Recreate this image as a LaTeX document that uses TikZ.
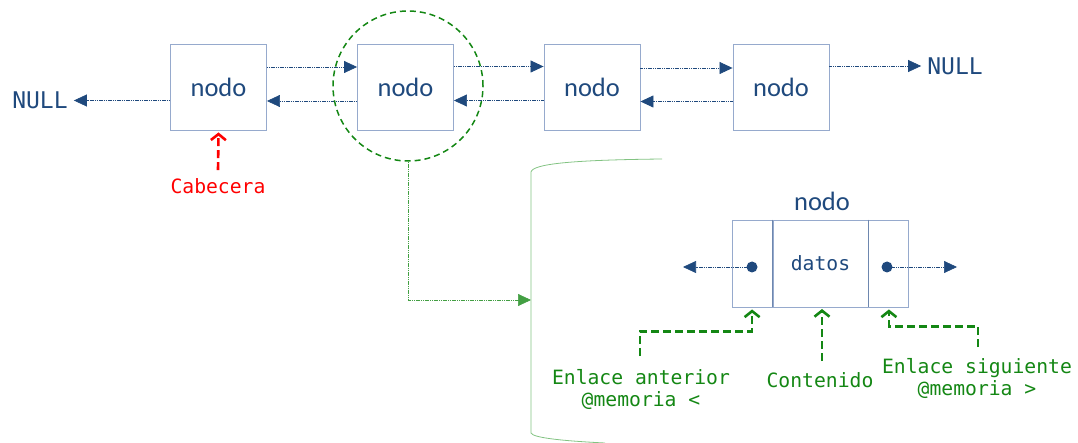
\documentclass[tikz,border=0pt]{standalone}
\usepackage{fontspec}
\setmainfont{Carlito}
\newfontfamily\monof{DejaVu Sans Mono}
\usetikzlibrary{arrows.meta,calc}
\definecolor{txtblue}{RGB}{31,73,125}
\definecolor{lnblue}{RGB}{31,73,125}
\definecolor{boxbd}{RGB}{150,170,205}
\definecolor{divbd}{RGB}{110,135,175}
\definecolor{gr}{RGB}{20,135,20}
\definecolor{lgr}{RGB}{130,195,130}
\tikzset{
  box/.style={draw=boxbd, line width=0.9pt, minimum width=96pt, minimum height=86pt, inner sep=0pt,
    font=\fontsize{26.5}{31}\selectfont, text=txtblue},
  cell/.style={draw=boxbd, line width=0.9pt, minimum height=87pt, inner sep=0pt,
    font=\monof\fontsize{19.7}{23}\selectfont, text=txtblue},
  link/.style={draw=lnblue, line width=0.7pt, dash pattern=on 1.2pt off 0.6pt,
    -{Triangle[length=13pt,width=12pt]}},
  nulltxt/.style={font=\monof\fontsize{23}{27}\selectfont, text=txtblue, inner sep=6pt},
  lbl/.style={font=\monof\fontsize{19.7}{23}\selectfont, text=gr, align=center, inner sep=0pt},
  gdash/.style={draw=gr, line width=2.6pt, dash pattern=on 8pt off 4pt,
    -{Straight Barb[length=6pt,width=15pt,line width=2.6pt]}},
  rdash/.style={draw=red, line width=2.6pt, dash pattern=on 8pt off 4pt,
    -{Straight Barb[length=6pt,width=15pt,line width=2.6pt]}},
  glink/.style={draw=gr!80, line width=0.7pt, dash pattern=on 1.2pt off 0.6pt,
    -{Triangle[length=13pt,width=12pt]}},
  dotn/.style={circle, fill=lnblue, minimum size=11pt, inner sep=0pt}
}
\begin{document}
\begin{tikzpicture}[x=1pt,y=-1pt]
\useasboundingbox (0,0) rectangle (1078,443);

% main list
\node[box] (b1) at (218.5,87) {nodo};
\node[box] (b2) at (405.5,87) {nodo};
\node[box] (b3) at (592,87) {nodo};
\node[box] (b4) at (781,87) {nodo};

\node[nulltxt] (n1) at (40,100.5) {NULL};
\node[nulltxt] (n2) at (955,66) {NULL};

\draw[link] ($(b1.west)+(0,13.5)$) -- (n1.east);
\draw[link] ($(b1.east)+(0,-20)$) -- ($(b2.west)+(0,-20)$);
\draw[link] ($(b2.west)+(0,14)$) -- ($(b1.east)+(0,14)$);
\draw[link] ($(b2.east)+(0,-20.5)$) -- ($(b3.west)+(0,-20.5)$);
\draw[link] ($(b3.west)+(0,13.5)$) -- ($(b2.east)+(0,13.5)$);
\draw[link] ($(b3.east)+(0,-19)$) -- ($(b4.west)+(0,-19)$);
\draw[link] ($(b4.west)+(0,14.5)$) -- ($(b3.east)+(0,14.5)$);
\draw[link] ($(b4.east)+(0,-21)$) -- (n2.west);

% head
\node[font=\monof\fontsize{19.7}{23}\selectfont, text=red, inner sep=0pt] (cab) at (218,186) {Cabecera};
\draw[rdash] ([yshift=8pt]cab.north) -- ([yshift=-2pt]b1.south);

% zoom circle
\node[circle, draw=gr, line width=1.5pt, dash pattern=on 6pt off 4pt, minimum size=150pt, inner sep=0pt] (circ) at (408,86) {};

% bracket
\draw[draw=lgr, line width=0.8pt] (662,159) .. controls (570,160) and (533,164) .. (531,172)
  -- (531,433) .. controls (533,438) and (565,441) .. (605,443);
\coordinate (brk) at (531,300);
\draw[glink] (circ.south) |- (brk);

% detail node
\node[cell, minimum width=95pt] (dm) at (820.5,263.5) {datos};
\node[cell, minimum width=40pt, anchor=east] (dl) at (dm.west) {};
\node[cell, minimum width=40pt, anchor=west] (dr) at (dm.east) {};
\draw[divbd, line width=0.9pt] (dm.north west) -- (dm.south west) (dm.north east) -- (dm.south east);
\node[font=\fontsize{26.5}{31}\selectfont, text=txtblue] (tit) at (822,201) {nodo};
\node[dotn] (dotL) at (752,267) {};
\node[dotn] (dotR) at (887,267) {};
\coordinate (pl) at (683,267);
\coordinate (pr) at (957,267);
\draw[link] (dotL.center) -- (pl);
\draw[link] (dotR.center) -- (pr);

% labels
\node[lbl, font=\monof\fontsize{19.7}{22}\selectfont] (ea) at (641,389) {Enlace anterior\\@memoria <};
\node[lbl] (co) at (820,380) {Contenido};
\node[lbl, font=\monof\fontsize{19.7}{22}\selectfont] (es) at (977,378) {Enlace siguiente\\@memoria >};

\coordinate (ea1) at (640,356);
\coordinate (co1) at (822,361);
\coordinate (co2) at (822,309);
\coordinate (es1) at (978,347);
\draw[gdash] (ea1) |- ($(dl.south)+(0,24)$) -- ($(dl.south)+(0,2)$);
\draw[gdash] (co1) -- (co2);
\draw[gdash] (es1) |- ($(dr.south)+(0,19)$) -- ($(dr.south)+(0,2)$);
\end{tikzpicture}
\end{document}
